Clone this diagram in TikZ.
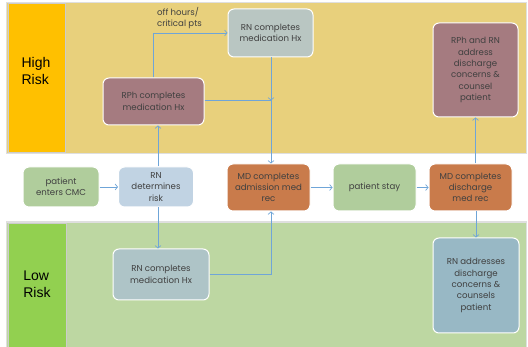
\documentclass[tikz,border=0pt]{standalone}
\usepackage{fontspec}
\setmainfont{Poppins}
\newfontfamily\lanefont{Liberation Sans}
\usetikzlibrary{arrows.meta,calc}
\definecolor{hiband}{HTML}{E8D07C}
\definecolor{hilabel}{HTML}{FFC000}
\definecolor{loband}{HTML}{BDD7A2}
\definecolor{lolabel}{HTML}{92D050}
\definecolor{mauve}{HTML}{A57B80}
\definecolor{grayblue}{HTML}{B9C6C2}
\definecolor{greenbox}{HTML}{B0CD9C}
\definecolor{bluebox}{HTML}{C1D3E3}
\definecolor{rust}{HTML}{C97B4B}
\definecolor{lowrn}{HTML}{AEC4C7}
\definecolor{steel}{HTML}{98B8C5}
\definecolor{arrowc}{HTML}{6FA5D8}
\definecolor{txt}{HTML}{404040}
\tikzset{
  box/.style={draw=white, line width=1pt, rounded corners=6pt, align=center,
    text=txt, font=\fontsize{8.6}{11.3}\selectfont, inner sep=1pt},
  conn/.style={draw=arrowc, line width=0.7pt, -{Straight Barb[length=2.5pt,width=6pt]}},
  plain/.style={draw=arrowc, line width=0.7pt},
  lane/.style={font=\lanefont\fontsize{14}{17}\selectfont, align=left, text=black}
}
\begin{document}
\begin{tikzpicture}[x=1pt,y=-1pt]
\useasboundingbox (0,0) rectangle (528,347);
\fill[white] (0,0) rectangle (528,347);
% bands
\fill[gray!25] (6,2) rectangle (527,154.5);
\fill[hiband] (7,3) rectangle (526,153);
\fill[hilabel] (8,3.5) rectangle (65,152.5);
\draw[gray!40, line width=0.5pt] (8,3.5) rectangle (65,152.5);
\fill[gray!25] (6,221.5) rectangle (527,347);
\fill[loband] (7,223) rectangle (526,347);
\fill[lolabel] (8,223.5) rectangle (66,347);
\draw[gray!40, line width=0.5pt] (8,347) -- (8,223.5) -- (66,223.5) -- (66,347);
\node[lane] (hi) at (36,71) {High\\Risk};
\node[lane] (lo) at (37,284) {Low\\Risk};
% nodes
\node[box, fill=mauve, minimum width=101pt, minimum height=47pt] (rph) at (153.5,101.5) {RPh completes\\medication Hx};
\node[box, fill=grayblue, minimum width=85pt, minimum height=48pt] (rntop) at (270.5,33) {RN completes\\medication Hx};
\node[box, fill=mauve, minimum width=85pt, minimum height=94pt] (rphrn) at (475.5,70) {RPh and RN\\address\\discharge\\concerns \&\\counsel\\patient};
\node[box, fill=greenbox, minimum width=76pt, minimum height=40pt] (enter) at (61,187) {patient\\enters CMC};
\node[box, fill=bluebox, minimum width=75pt, minimum height=40pt] (det) at (156,187) {RN\\determines\\risk};
\node[box, fill=rust, minimum width=83pt, minimum height=47pt] (mdadm) at (268.5,187.5) {MD completes\\admission med\\rec};
\node[box, fill=greenbox, minimum width=83pt, minimum height=47pt] (stay) at (374.5,187.5) {patient stay};
\node[box, fill=rust, minimum width=83pt, minimum height=47pt] (mddis) at (470.5,187.5) {MD completes\\discharge\\med rec};
\node[box, fill=lowrn, minimum width=96pt, minimum height=51pt] (rnlow) at (161,274.5) {RN completes\\medication Hx};
\node[box, fill=steel, minimum width=86pt, minimum height=95pt] (rnaddr) at (476,285.5) {RN addresses\\discharge\\concerns \&\\counsels\\patient};
\node[text=txt, font=\fontsize{8.6}{11}\selectfont, align=left, anchor=west, inner sep=0pt] (off) at (157,18.5) {off hours/\\critical pts};
% connectors
\coordinate (j) at (271,100.5);
\draw[conn] (enter) -- (det);
\draw[conn] (det.north -| 158,0) -- (158,0 |- rph.south);
\draw[conn] (det.south -| 158,0) -- (158,0 |- rnlow.north);
\draw[conn] (rph.north -| 153,0) |- (rntop.west);
\draw[plain] (rph.east |- j) -- (j);
\draw[conn] (rntop.south -| j) -- (j);
\draw[conn] (j) -- (j |- mdadm.north);
\draw[conn] (rnlow.east) -| (mdadm.south -| j);
\draw[conn] (mdadm) -- (stay);
\draw[conn] (stay) -- (mddis);
\draw[conn] (mddis.north -| rphrn) -- (rphrn.south);
\draw[conn] (mddis.south -| rnaddr) -- (rnaddr.north);
\end{tikzpicture}
\end{document}
